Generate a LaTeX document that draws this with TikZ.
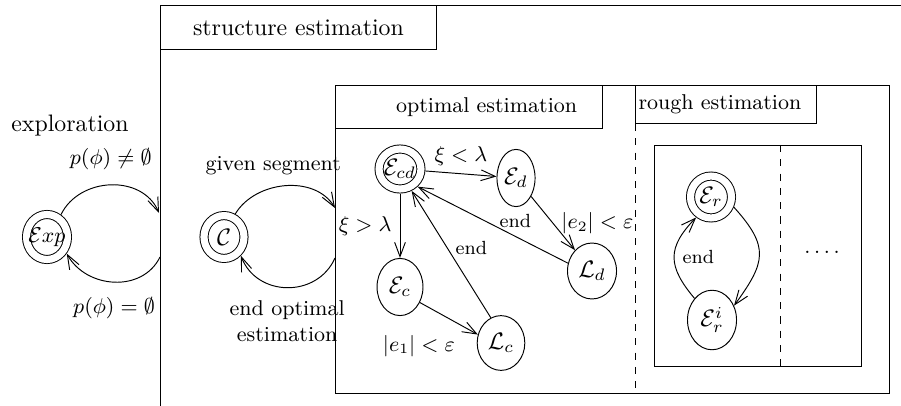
\documentclass[tikz,border=0pt]{standalone}
\usepackage{amsmath}
\usetikzlibrary{arrows.meta,shapes.geometric}

% state text that does not widen the ellipse
\newcommand{\stname}[1]{\makebox[0pt]{$#1$}}

\begin{document}
\begin{tikzpicture}[x=0.42pt,y=-0.42pt,thin,
  >={Straight Barb[length=6pt,width=4.5pt]},
  st/.style={ellipse,draw,inner sep=0pt},
  fin/.style={st,double,double distance=3pt,outer sep=1.9pt},
  tab/.style={draw,rectangle,anchor=north west,inner ysep=0pt,font=\small},
  lbl/.style={font=\small},
  endlbl/.style={font=\footnotesize}]
\useasboundingbox (0,0) rectangle (901,406);

% ============ frames ============
\draw (160,406) -- (160,5) -- (901,5);
\node[tab,font=\normalsize,minimum width=115.9pt,minimum height=18.5pt] (stTab) at (160,5)
  {structure estimation};
\draw (335,85) rectangle (889,393);
\node[tab,minimum height=18pt,text width=91pt,inner xsep=10.5pt,align=right] (optTab)
  at (335,85) {optimal estimation};
\node[tab,minimum height=16pt,text width=73.4pt,inner xsep=1.3pt,align=left] (rghTab)
  at (635,85) {rough estimation};
\draw[dashed] (rghTab.south west) -- (635,393);
\draw (654,145) rectangle (861,366);
\draw[dashed] (780,145) -- (780,366);
\node[lbl] (more) at (822,252) {.\,.\,.\,.};

% ============ exploration ============
\node (explo) at (70,126) {exploration};
\node[fin,minimum width=17.2pt,minimum height=18.9pt] (exp) at (47,237)
  {\small\stname{\mathcal{E}xp}};
\coordinate (exA) at (159,213);
\coordinate (exB) at (160,257);
\draw[->] (exp.58) to[out=64,in=113,looseness=1.1]
  node[above=3pt,lbl] (pNe) {$p(\phi)\neq\emptyset$} (exA);
\draw[->] (exB) to[out=-116,in=-61,looseness=1.1]
  node[below=3pt,lbl] (pEq) {$p(\phi)=\emptyset$} (exp.-40);

% ============ structure estimation ============
\node[fin,minimum width=16.8pt,minimum height=18pt] (c) at (224,237) {\stname{\mathcal{C}}};
\coordinate (cA) at (335,208);
\coordinate (cB) at (335,258);
\draw[->] (c.64) to[out=59,in=121,looseness=1.0]
  node[pos=.4,above=2pt,lbl] (gSeg) {given segment} (cA);
\draw[->] (cB) to[out=-114,in=-69,looseness=1.2]
  node[below=2pt,lbl,align=center] (eOpt) {end optimal\\estimation} (c.-48);

% ============ optimal estimation ============
\node[fin,minimum width=17.6pt,minimum height=16.8pt] (ecd) at (400,169) {\stname{\mathcal{E}_{cd}}};
\node[st,minimum width=16pt,minimum height=24pt] (ed) at (516,178) {\stname{\mathcal{E}_d}};
\node[st,minimum width=19.3pt,minimum height=24pt] (ec) at (400,287) {\stname{\mathcal{E}_c}};
\node[st,minimum width=20pt,minimum height=23pt] (lc) at (501,343) {\stname{\mathcal{L}_c}};
\node[st,minimum width=20.6pt,minimum height=23.5pt] (ld) at (592,271) {\stname{\mathcal{L}_d}};
\draw[->] (ecd) -- node[above,lbl] {$\xi<\lambda$} (ed);
\draw[->] (ecd) -- node[left,lbl] {$\xi>\lambda$} (ec);
\draw[->] (ed) -- node[right,lbl] {$|e_2|<\varepsilon$} (ld);
\draw[->] (ld.162) -- node[pos=.35,above,endlbl] {end} (ecd.-45);
\draw[->] (ec.-38) -- node[pos=.75,below left,lbl] {$|e_1|<\varepsilon$} (lc.160);
\draw[->] (lc.112) -- node[pos=.55,right,endlbl] {end} (ecd.-62);

% ============ rough estimation ============
\node[fin,minimum width=17.2pt,minimum height=17.6pt] (er) at (711,197) {\stname{\mathcal{E}_r}};
\node[st,minimum width=20.6pt,minimum height=25pt] (eri) at (712,320) {\stname{\mathcal{E}_r^i}};
\draw[->] (er.-24) to[out=-48,in=54,looseness=1.4] (eri.33);
\draw[->] (eri.129) to[out=130,in=-134,looseness=1.33]
  node[right,endlbl] {end} (er.-126);
\end{tikzpicture}
\end{document}
